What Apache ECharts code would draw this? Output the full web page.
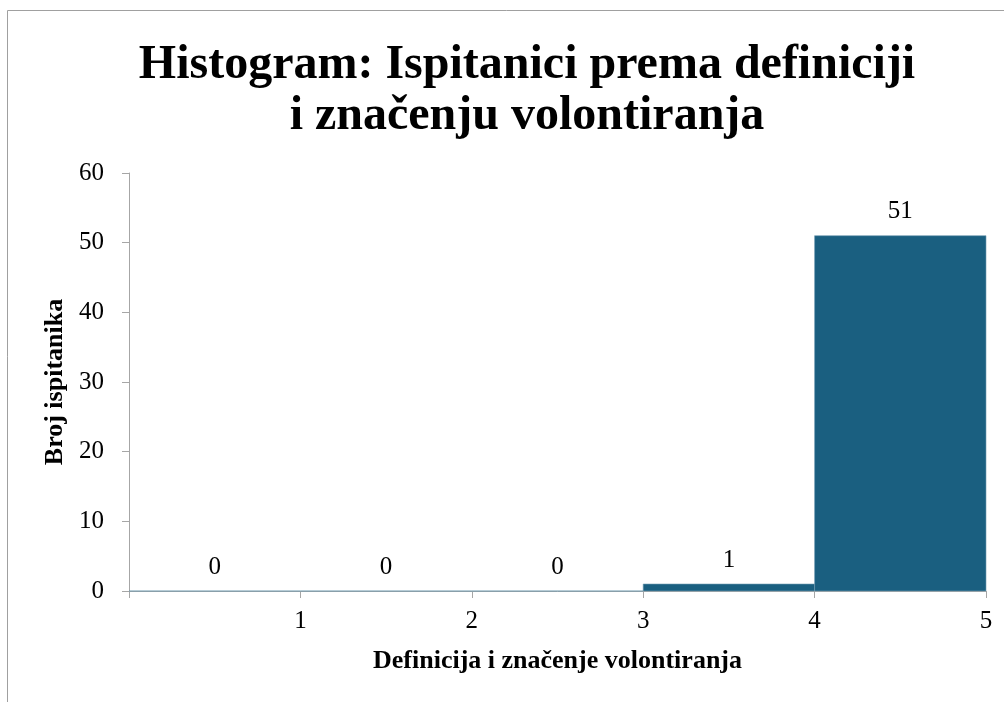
<!DOCTYPE html>
<html>
<head>
<meta charset="utf-8">
<script src="https://cdn.jsdelivr.net/npm/echarts@6/dist/echarts.min.js"></script>
<style>
  html, body { margin: 0; padding: 0; background: #fff; }
  #chart { width: 1004px; height: 702px; }
</style>
</head>
<body>
<div id="chart"></div>
<script>
// histogram bins: [start, end] and counts
const binStarts = [0, 1, 2, 3, 4]
const binEnds = [1, 2, 3, 4, 5]
const counts = [0, 0, 0, 1, 51]
const xTicks = [1, 2, 3, 4, 5]

const serif = '"Liberation Serif", "Times New Roman", serif'
const axisGray = '#a6a6a6'
const barColor = '#1a5f80'

const chart = echarts.init(document.getElementById('chart'))
const data = binStarts.map((s, i) => [s, binEnds[i], counts[i]])

chart.setOption({
  animation: false,
  graphic: [{
    type: 'rect',
    shape: { x: 7.5, y: 10.5, width: 1100, height: 800 },
    style: { fill: 'none', stroke: '#a0a0a0', lineWidth: 1 },
    silent: true
  }],
  title: {
    text: 'Histogram: Ispitanici prema definiciji\ni značenju volontiranja',
    left: 522,
    textAlign: 'center',
    top: 35,
    textStyle: {
      fontFamily: serif,
      fontSize: 48,
      fontWeight: 'bold',
      color: '#000',
      lineHeight: 51
    }
  },
  grid: { left: 129, right: 18, top: 173, bottom: 111 },
  xAxis: {
    type: 'value',
    min: 0,
    max: 5,
    interval: 1,
    name: 'Definicija i značenje volontiranja',
    nameLocation: 'middle',
    nameGap: 57,
    nameTextStyle: { fontFamily: serif, fontSize: 26, fontWeight: 'bold', color: '#000' },
    splitLine: { show: false },
    axisLine: { show: true, lineStyle: { color: axisGray } },
    axisTick: { show: true, length: 7, lineStyle: { color: axisGray } },
    axisLabel: {
      fontFamily: serif, fontSize: 25, color: '#000', margin: 18,
      formatter: v => (xTicks.includes(v) ? String(v) : '')
    }
  },
  yAxis: {
    type: 'value',
    min: 0,
    max: 60,
    interval: 10,
    name: 'Broj ispitanika',
    nameLocation: 'middle',
    nameGap: 57,
    nameRotate: 90,
    nameTextStyle: { fontFamily: serif, fontSize: 26, fontWeight: 'bold', color: '#000' },
    splitLine: { show: false },
    axisLine: { show: true, lineStyle: { color: axisGray } },
    axisTick: { show: true, length: 7, lineStyle: { color: axisGray } },
    axisLabel: { fontFamily: serif, fontSize: 25, color: '#000', margin: 25 }
  },
  series: [{
    type: 'custom',
    data: data,
    encode: { x: [0, 1], y: 2 },
    renderItem: (params, api) => {
      const p0 = api.coord([api.value(0), api.value(2)])
      const p1 = api.coord([api.value(1), 0])
      return {
        type: 'rect',
        shape: { x: p0[0], y: p0[1], width: p1[0] - p0[0], height: p1[1] - p0[1] },
        style: { fill: barColor, stroke: '#6f9ab0', lineWidth: 0.6 },
        textContent: {
          style: {
            text: String(api.value(2)),
            fontFamily: serif,
            fontSize: 25,
            fill: '#000'
          }
        },
        textConfig: { position: 'top', distance: 11 }
      }
    }
  }]
})
</script>
</body>
</html>
